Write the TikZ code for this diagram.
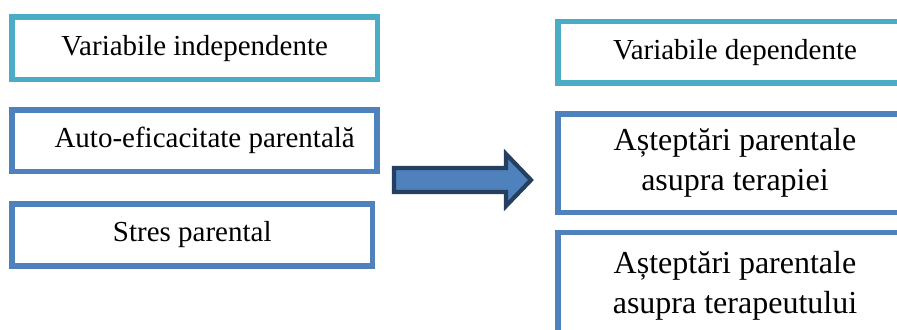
\documentclass[tikz,border=0pt]{standalone}
\usepackage{fontspec}
\setmainfont{Liberation Serif}
\newfontfamily\timesface{Liberation Serif}
\usepackage{tikz}

\definecolor{headblue}{HTML}{4BACC6}
\definecolor{boxblue}{HTML}{4F81BD}
\definecolor{arrowrim}{HTML}{243F60}

\begin{document}
\begin{tikzpicture}[
			x=0.5pt, y=-0.5pt,
			every node/.style={font=\timesface\fontsize{14.5pt}{18pt}\selectfont},
			line cap=rect,
			line join=miter,
			headbox/.style={draw=headblue, line width=2.6pt, fill=white, rectangle, inner sep=0pt},
			varbox/.style={draw=boxblue, line width=2.6pt, fill=white, rectangle, inner sep=0pt},
			bigtext/.style={font=\timesface\fontsize{16pt}{20pt}\selectfont, align=center}
			]
			\clip (0,0) rectangle (897,329);
			\fill[white] (0,0) rectangle (897,329);
			% left column
			\node[headbox, minimum width=182.75pt, minimum height=31.25pt] (indep) at (194.75,48.25) {Variabile independente};
			\node[varbox, minimum width=182.5pt, minimum height=30.75pt] (autoef) at (194.5,140.75) {\hspace{0.7em}Auto-eficacitate parentală};
			\node[varbox, minimum width=180.25pt, minimum height=31pt] (stres) at (192.25,235) {Stres parental};
			
			% right column
			\node[headbox, minimum width=177pt, minimum height=30.75pt] (dep) at (735,52.25) {Variabile dependente};
			\node[varbox, bigtext, minimum width=177pt, minimum height=49.25pt] (asteptT) at (735,163.25) {Așteptări parentale\\asupra terapiei};
			\node[varbox, bigtext, minimum width=177pt, minimum height=53.75pt] (asteptP) at (735,286) {Așteptări parentale\\asupra terapeutului};
			
			% block arrow between the columns
			\draw[arrowrim, fill=boxblue, line width=2.1pt]
				(394,168) -- (506,168) -- (506,154) -- (531,180) -- (506,206) -- (506,192) -- (394,192) -- cycle;
		\end{tikzpicture}
\end{document}
